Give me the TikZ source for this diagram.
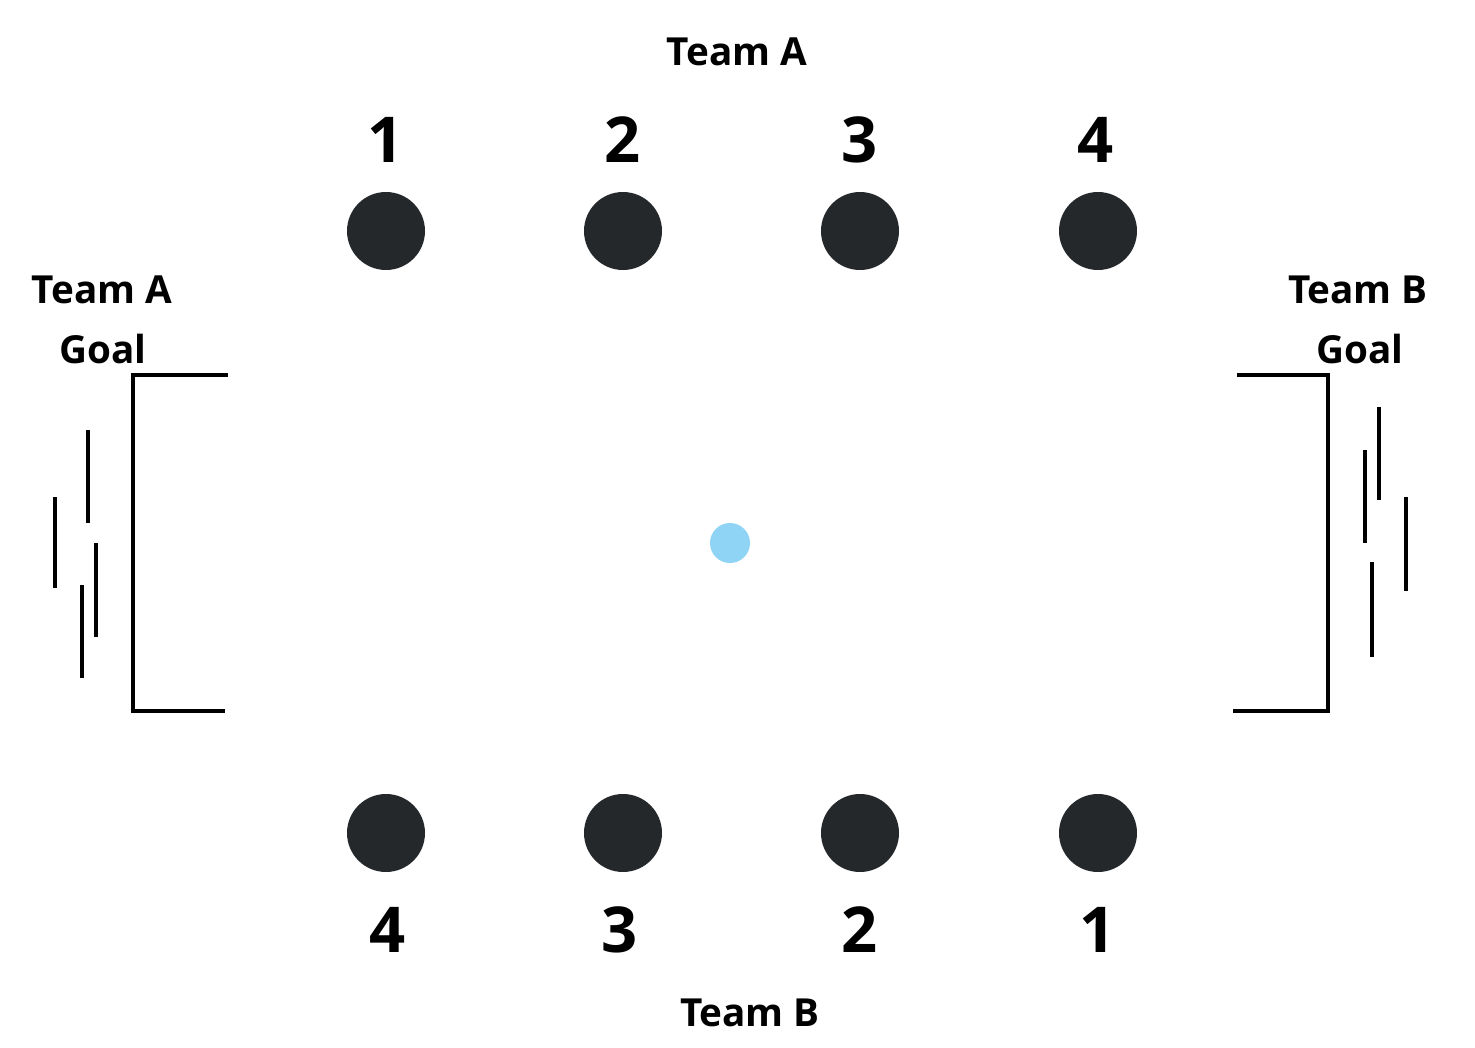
\documentclass[tikz,border=0pt]{standalone}
\usepackage{fontspec}
\setmainfont{Open Sans}
\definecolor{playerfill}{HTML}{25282B}
\definecolor{ballblue}{HTML}{8FD3F5}
\tikzset{
  player/.style={circle,fill=playerfill,minimum size=2*39*0.02cm,inner sep=0pt},
  ballnode/.style={circle,fill=ballblue,minimum size=2*20*0.02cm,inner sep=0pt},
  numlabel/.style={font=\fontsize{36}{40}\selectfont\bfseries,inner sep=0pt},
  teamlabel/.style={font=\fontsize{22}{26}\selectfont\bfseries,inner sep=0pt},
  goalline/.style={line width=2.4pt,black},
  netline/.style={line width=2.4pt,black}
}
\begin{document}
\begin{tikzpicture}[x=0.02cm,y=-0.02cm]
        \useasboundingbox[fill=white] (0,0) rectangle (1475,1048);

        % Team A oben
        \node[teamlabel] (teamA) at (737,52) {Team A};
        \node[player] (a1) at (386,231) {};
        \node[player] (a2) at (623,231) {};
        \node[player] (a3) at (860,231) {};
        \node[player] (a4) at (1098,231) {};
        \node[numlabel] (na1) at (386,140) {1};
        \node[numlabel] (na2) at (623,140) {2};
        \node[numlabel] (na3) at (860,140) {3};
        \node[numlabel] (na4) at (1096,140) {4};

        % Team B unten
        \node[player] (b4) at (386,833) {};
        \node[player] (b3) at (623,833) {};
        \node[player] (b2) at (860,833) {};
        \node[player] (b1) at (1098,833) {};
        \node[numlabel] (nb4) at (388,930) {4};
        \node[numlabel] (nb3) at (620,930) {3};
        \node[numlabel] (nb2) at (860,930) {2};
        \node[numlabel] (nb1) at (1098,930) {1};
        \node[teamlabel] (teamB) at (750,1013) {Team B};

        % Ball
        \node[ballnode] (ball) at (730,543) {};

        % Tor Team A (links)
        \node[teamlabel] (goalA1) at (102,290) {Team A};
        \node[teamlabel] (goalA2) at (103,349) {Goal};
        \draw[goalline] (228,375) -- (133,375) -- (133,711) -- (225,711);
        \draw[netline] (88,430) -- (88,523);
        \draw[netline] (55,497) -- (55,588);
        \draw[netline] (96,543) -- (96,637);
        \draw[netline] (82,585) -- (82,678);

        % Tor Team B (rechts)
        \node[teamlabel] (goalB1) at (1358,290) {Team B};
        \node[teamlabel] (goalB2) at (1360,349) {Goal};
        \draw[goalline] (1237,375) -- (1328,375) -- (1328,711) -- (1233,711);
        \draw[netline] (1379,407) -- (1379,500);
        \draw[netline] (1365,450) -- (1365,543);
        \draw[netline] (1406,497) -- (1406,591);
        \draw[netline] (1372,562) -- (1372,657);
    \end{tikzpicture}
\end{document}
